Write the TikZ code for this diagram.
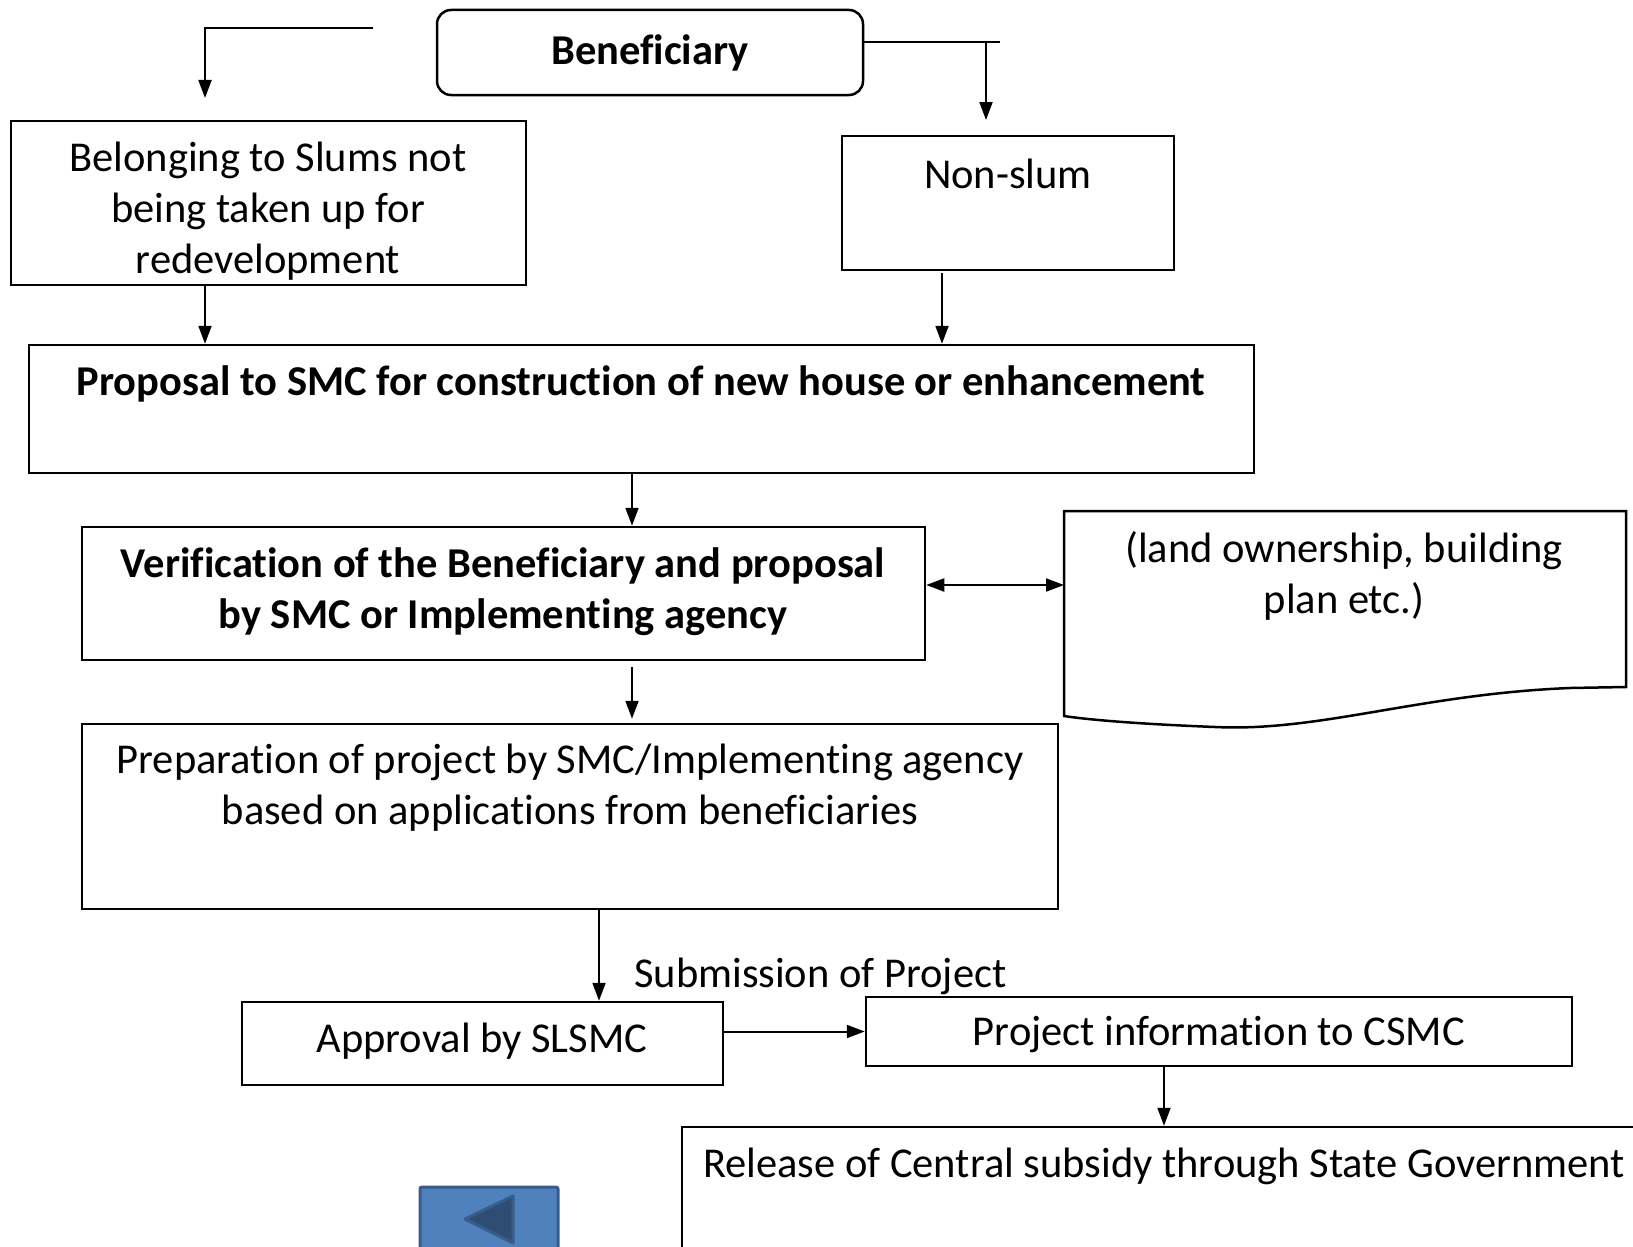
\documentclass[tikz,border=0pt]{standalone}
\usepackage{fontspec}
\setmainfont{Carlito}[RawFeature=-liga]
\usetikzlibrary{arrows.meta,calc}

\definecolor{btnfill}{HTML}{4F81BD}
\definecolor{btnline}{HTML}{385D8A}
\definecolor{btndark}{HTML}{2F4D73}

\tikzset{
  box/.style={draw, line width=2.5pt, inner sep=0pt, rectangle},
  txt/.style={font=\fontsize{42.5}{51}\selectfont, align=center, inner sep=0pt},
  boldtxt/.style={txt, font=\fontsize{42.5}{51}\selectfont\bfseries},
  arr/.style={line width=2pt, -{Triangle[length=18pt,width=13pt]}},
  darr/.style={line width=2pt, {Triangle[length=18pt,width=13pt]}-{Triangle[length=18pt,width=13pt]}}
}

\begin{document}
\begin{tikzpicture}[x=1pt,y=-1pt]
    \useasboundingbox (0,0) rectangle (1633,1247);
    \clip (0,0) rectangle (1633,1247);

    % boxes
    \node[box, rounded corners=14pt, minimum width=426pt, minimum height=85pt, boldtxt] (benef) at (650,52.5) {Beneficiary};
    \node[box, minimum width=515pt, minimum height=164pt] (slum) at (268.5,203) {};
    \node[txt] (slumtxt) at (268,211) {Belonging to Slums not\\being taken up for\\redevelopment};
    \node[box, minimum width=332pt, minimum height=134pt] (nonslum) at (1008,203) {};
    \node[txt] (nonslumtxt) at (1008,174) {Non-slum};
    \node[box, minimum width=1225pt, minimum height=128pt] (prop) at (641.5,409) {};
    \node[boldtxt] (proptxt) at (641,384) {Proposal to SMC for construction of new house or enhancement};
    \node[box, minimum width=843pt, minimum height=133pt] (verif) at (503.5,593.5) {};
    \node[boldtxt] (veriftxt) at (503,592) {Verification of the Beneficiary and proposal\\by SMC or Implementing agency};
    \node[box, minimum width=976pt, minimum height=185pt] (prep) at (570,816.5) {};
    \node[txt] (preptxt) at (570,788) {Preparation of project by SMC/Implementing agency\\based on applications from beneficiaries};
    \node[box, minimum width=481pt, minimum height=83pt] (approval) at (482.5,1043.5) {};
    \node[txt] (approvaltxt) at (482,1041) {Approval by SLSMC};
    \node[box, minimum width=706pt, minimum height=69pt] (info) at (1219,1031.5) {};
    \node[txt] (infotxt) at (1219,1035) {Project information to CSMC};
    \node[box, minimum width=964pt, minimum height=173pt] (release) at (1164,1213.5) {};
    \node[txt] (releasetxt) at (1164,1166) {Release of Central subsidy through State Government};

    % document shape
    \draw[line width=2.5pt] (1064,511) -- (1626,511) -- (1626,687) -- (1570,688)
        .. controls (1420,694) and (1320,732) .. (1215,727)
        .. controls (1140,724) and (1090,720) .. (1064,716) -- cycle;
    \node[txt] (doctxt) at (1344,576) {(land ownership, building\\plan etc.)};
    \coordinate (docw) at (1064,585);

    % top connectors
    \coordinate (lstart) at (373,28);
    \coordinate (lend) at (205,98);
    \draw[arr] (lstart) -| (lend);
    \coordinate (rend) at (1000,42);
    \coordinate (rdown) at (986,120);
    \draw[line width=2pt] (benef.east |- rend) -- (rend);
    \draw[arr] (rdown |- rend) -- (rdown);

    % flow connectors
    \draw[arr] (slum.south -| 205,0) -- (prop.north -| 205,0);
    \draw[arr] ([yshift=-2pt]nonslum.south -| 942,0) -- (prop.north -| 942,0);
    \draw[arr] (prop.south -| 632,0) -- (verif.north -| 632,0);
    \draw[darr] (verif.east |- docw) -- (docw);
    \draw[arr] ([yshift=-6pt]verif.south -| 632,0) -- ([yshift=4pt]prep.north -| 632,0);
    \draw[arr] (prep.south -| 599,0) -- (approval.north -| 599,0);
    \node[txt, anchor=west] (submit) at (634,976) {Submission of Project};
    \draw[arr] (approval.east |- info) -- (info.west);
    \draw[arr] (info.south -| release) -- (release.north);

    % back button
    \draw[btnline, fill=btnfill, line width=3pt, rounded corners=2pt] (420,1187) rectangle (558,1270);
    \draw[btnline, fill=btndark, line width=3pt, line join=round] (465,1219) -- (513,1196) -- (513,1243) -- cycle;
\end{tikzpicture}
\end{document}
